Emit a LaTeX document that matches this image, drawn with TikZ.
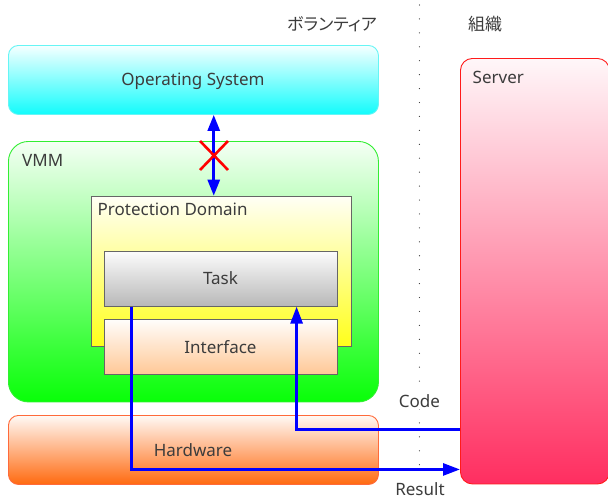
\documentclass[tikz,border=0pt]{standalone}
\usepackage{fontspec}
\setmainfont{Noto Sans}
\newfontfamily\jpfont[RawFeature=+palt]{Noto Sans CJK JP}
\usetikzlibrary{arrows.meta,calc}

\definecolor{txt}{HTML}{3C3C3C}
\definecolor{osfill}{HTML}{12FCFC}
\definecolor{osline}{HTML}{66F5F5}
\definecolor{vmmfill}{HTML}{08FF08}
\definecolor{vmmline}{HTML}{33EE33}
\definecolor{hwfill}{HTML}{FF6A10}
\definecolor{hwline}{HTML}{FF6A3A}
\definecolor{srvfill}{HTML}{FF2E60}
\definecolor{srvline}{HTML}{FF1A1A}
\definecolor{pdfill}{HTML}{FFFF1A}
\definecolor{taskfill}{HTML}{B8B8B8}
\definecolor{iffill}{HTML}{FFC896}
\definecolor{boxline}{HTML}{666666}
\definecolor{flow}{HTML}{0000FF}

\tikzset{
  lbl/.style={text=txt, inner sep=0pt, font=\fontsize{17}{20}\selectfont},
  layer/.style n args={4}{anchor=north west, inner sep=0pt, line width=0.9pt,
    minimum width=#1, minimum height=#2, top color=#3!4!white, bottom color=#3, draw=#4},
  flowline/.style={draw=flow, line width=2.8pt,
    -{Triangle[length=17pt,width=12pt]}},
  both/.style={draw=flow, line width=2.8pt,
    {Triangle[length=16pt,width=12pt]}-{Triangle[length=16pt,width=12pt]}},
  cross/.style={draw=red, line width=2.6pt},
}

\begin{document}
\begin{tikzpicture}[x=1pt,y=-1pt]
\useasboundingbox (0,0) rectangle (608,499);

% separator between the two sides
\foreach \k in {0,...,33}
  \fill[black!80] (419.4,{5+13.93*\k}) circle (0.6);

% column headings
\node[lbl, anchor=east] (vol) at (377,24) {\jpfont ボランティア};
\node[lbl, anchor=west] (org) at (468,24) {\jpfont 組織};

% layers
\node[layer={370pt}{69pt}{osfill}{osline}, rounded corners=10pt] (os) at (8,45) {};
\node[layer={370pt}{260.5pt}{vmmfill}{vmmline}, rounded corners=20pt] (vmm) at (8,141) {};
\node[layer={370pt}{69pt}{hwfill}{hwline}, rounded corners=10pt] (hw) at (8,415) {};
\node[layer={149pt}{425.5pt}{srvfill}{srvline}, rounded corners=12pt] (server) at (460,58) {};
\node[layer={260pt}{150.3pt}{pdfill}{boxline}] (pd) at (90.7,195.7) {};
\node[layer={233.3pt}{55pt}{taskfill}{boxline}] (task) at (104,250.7) {};
\node[layer={233.3pt}{54.7pt}{iffill}{boxline}] (iface) at (104,319.3) {};

% labels
\node[lbl, anchor=base] at (193,85.5) {Operating System};
\node[lbl, anchor=base west] at (22,166.7) {VMM};
\node[lbl, anchor=base west] at (97.5,215) {Protection Domain};
\node[lbl, anchor=base] at (220.5,284.3) {Task};
\node[lbl, anchor=base] at (220.5,353.3) {Interface};
\node[lbl, anchor=base] at (193,456) {Hardware};
\node[lbl, anchor=base west] at (472.5,83) {Server};
\node[lbl, anchor=base, fill=white, inner sep=1pt] (code) at (419.5,407.7) {Code};
\node[lbl, anchor=base] (result) at (420,495.4) {Result};

% OS <-> VMM path, blocked
\draw[both] ([xshift=20.3pt]os.south) -- ([xshift=-7.4pt]pd.north);
\coordinate (blk) at (214,155.5);
\draw[cross] ($(blk)+(-14,-14.5)$) -- ($(blk)+(14,14.5)$);
\draw[cross] ($(blk)+(-14,14.5)$) -- ($(blk)+(14,-14.5)$);

% code and result flows
\draw[flowline] ([yshift=-158.05pt]server.west) -| ([xshift=-41.6pt]task.south east);
\draw[flowline] ([xshift=27.7pt]task.south west) |- ([yshift=-198.25pt]server.west);
\end{tikzpicture}
\end{document}
